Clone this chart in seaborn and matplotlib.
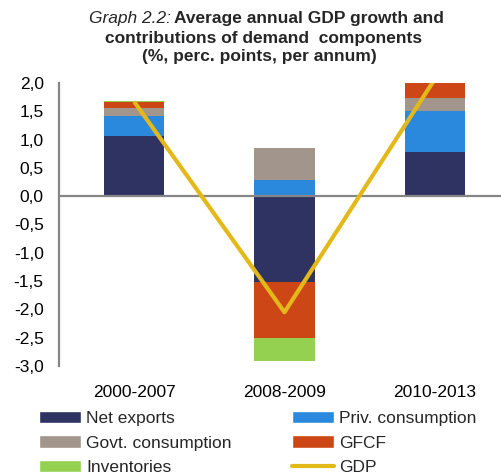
import numpy as np
import pandas as pd
import matplotlib
matplotlib.use("Agg")
import matplotlib.pyplot as plt
import seaborn as sns
from matplotlib.patches import Patch
from matplotlib.lines import Line2D

categories = ["2000-2007", "2008-2009", "2010-2013"]
net_exports = [1.07, -1.52, 0.78]
priv_consumption = [0.35, 0.29, 0.73]
govt_consumption = [0.14, 0.56, 0.22]
gfcf = [0.11, -0.99, 0.35]
inventories = [0.02, -0.40, 0.0]
gdp = [1.67, -2.05, 2.07]

series_names = ["Net exports", "Priv. consumption", "Govt. consumption", "GFCF", "Inventories"]
series_vals = [net_exports, priv_consumption, govt_consumption, gfcf, inventories]
colors = ["#2E3362", "#2A89DC", "#A2958C", "#CD4616", "#94D151"]
gdp_color = "#E3B91A"

sns.set_theme(style="white")
plt.rcParams["font.family"] = ["Liberation Sans", "DejaVu Sans"]

fig = plt.figure(figsize=(5.01, 4.75), dpi=100)
ax = fig.add_axes([59 / 501, 1 - 366 / 475, (510 - 59) / 501, (366 - 83) / 475])

pos_base = np.zeros(len(categories))
neg_base = np.zeros(len(categories))
for name, vals, col in zip(series_names, series_vals, colors):
    v = np.array(vals, dtype=float)
    bottom = np.where(v >= 0, pos_base, neg_base)
    df = pd.DataFrame({"cat": categories, "val": v})
    sns.barplot(data=df, x="cat", y="val", bottom=bottom, color=col, width=0.4,
                ax=ax, saturation=1, edgecolor="none", linewidth=0, zorder=2)
    pos_base = pos_base + np.where(v >= 0, v, 0)
    neg_base = neg_base + np.where(v < 0, v, 0)

gdf = pd.DataFrame({"cat": categories, "gdp": gdp})
sns.lineplot(data=gdf, x="cat", y="gdp", color=gdp_color, lw=3.0, ax=ax, zorder=4,
             solid_capstyle="butt")

ax.axhline(0, color="#868686", lw=1.6, zorder=3)
ax.set_ylim(-3.0, 2.0)
ax.set_xlim(-0.5, 2.5)
ax.set_yticks(np.arange(-3.0, 2.01, 0.5))
ax.set_yticklabels([f"{t:.1f}".replace(".", ",") for t in np.arange(-3.0, 2.01, 0.5)])
ax.tick_params(axis="y", length=0, pad=11, labelsize=12.5, labelcolor="black")
ax.tick_params(axis="x", length=0, pad=14, labelsize=12.5, labelcolor="black")
ax.set_xlabel("")
ax.set_ylabel("")
for s in ["top", "right", "bottom"]:
    ax.spines[s].set_visible(False)
ax.spines["left"].set_color("#868686")
ax.spines["left"].set_linewidth(1.6)
ax.grid(False)

# Title
tfs = 12.5
fig.text(171 / 501, 1 - 18 / 475, "Graph 2.2:", ha="right", va="center", style="italic",
         fontsize=tfs)
fig.text(174 / 501, 1 - 18 / 475, "Average annual GDP growth and", ha="left", va="center",
         fontweight="bold", fontsize=tfs)
fig.text(264 / 501, 1 - 38 / 475, "contributions of demand  components", ha="center",
         va="center", fontweight="bold", fontsize=tfs)
fig.text(259 / 501, 1 - 57 / 475, "(%, perc. points, per annum)", ha="center",
         va="center", fontweight="bold", fontsize=tfs)

handles = [Patch(facecolor=colors[0]), Patch(facecolor=colors[2]),
           Patch(facecolor=colors[4]), Patch(facecolor=colors[1]),
           Patch(facecolor=colors[3]), Line2D([0], [0], color=gdp_color, lw=3)]
labels = ["Net exports", "Govt. consumption", "Inventories",
          "Priv. consumption", "GFCF", "GDP"]
fig.legend(handles, labels, ncol=2, loc="upper left",
           bbox_to_anchor=(39 / 501, 1 - 411 / 475), frameon=False, fontsize=12.5,
           handlelength=2.4, handleheight=0.7, handletextpad=0.3, labelspacing=0.53,
           columnspacing=3.5, borderpad=0, borderaxespad=0)

fig.savefig("out.png", dpi=100)
